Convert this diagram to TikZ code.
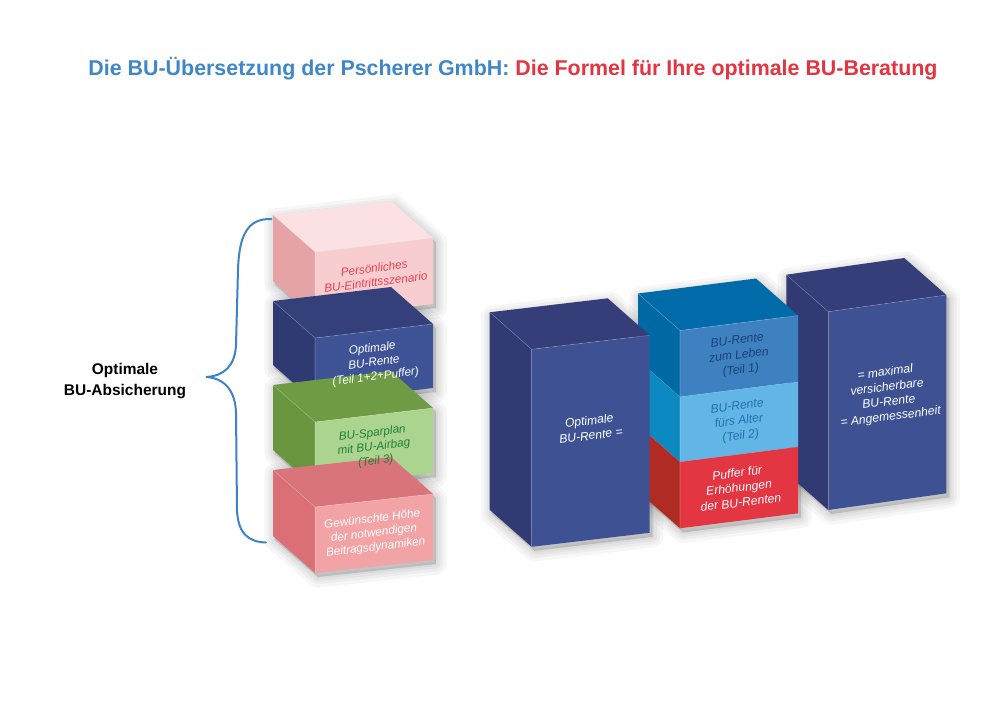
\documentclass[tikz,border=0pt]{standalone}
\usepackage{fontspec}
\setmainfont{Liberation Sans}
\definecolor{ttblue}{HTML}{3F87C7}
\definecolor{ttred}{HTML}{E53340}
\definecolor{pinkF}{HTML}{F8CDD0}
\definecolor{pinkT}{HTML}{FBE1E3}
\definecolor{pinkS}{HTML}{E5A3A5}
\definecolor{pinkTx}{HTML}{E8414F}
\definecolor{obF}{HTML}{3E5396}
\definecolor{obT}{HTML}{34407A}
\definecolor{obS}{HTML}{2F3A73}
\definecolor{grF}{HTML}{ABD48F}
\definecolor{grT}{HTML}{6F9B44}
\definecolor{grS}{HTML}{6A953F}
\definecolor{grTx}{HTML}{1F7F3A}
\definecolor{coF}{HTML}{F1A3A5}
\definecolor{coT}{HTML}{D9757A}
\definecolor{coS}{HTML}{DA6F76}
\definecolor{nvF}{HTML}{3D5193}
\definecolor{nvT}{HTML}{353E78}
\definecolor{nvS}{HTML}{313A72}
\definecolor{mtF}{HTML}{3E81C1}
\definecolor{mtT}{HTML}{006BA8}
\definecolor{mtS}{HTML}{0068A3}
\definecolor{mtTx}{HTML}{1E3F72}
\definecolor{lbF}{HTML}{62B6E5}
\definecolor{lbS}{HTML}{0C89C1}
\definecolor{lbTx}{HTML}{2A6CB0}
\definecolor{rdF}{HTML}{E43543}
\definecolor{rdS}{HTML}{B02B23}
\definecolor{braceblue}{HTML}{3E84C5}

% #1 name, #2 x0, #3 y0 (front top-left), #4 height, #5 skew
\newcommand{\cuboidshadow}[5]{%
  \foreach \w in {16,11,7,3}{%
    \draw[black, opacity=0.035, line width=\w pt, line join=round, fill=black, fill opacity=0.035]
      (#2-40,#3-33) -- (#2+79,#3-#5-33) -- (#2+121,#3-#5+4) -- (#2+121,#3-#5+#4+4) -- (#2+3,#3+#4+4) -- (#2-40,#3+#4-33) -- cycle;}}
% #1 name, #2 x0, #3 y0, #4 height, #5 skew, #6 front, #7 top, #8 side
\newcommand{\cuboid}[8]{%
  \coordinate (#1-a) at (#2,#3);
  \coordinate (#1-b) at (#2+118,#3-#5);
  \coordinate (#1-c) at (#2+118,#3-#5+#4);
  \coordinate (#1-d) at (#2,#3+#4);
  \coordinate (#1-e) at (#2-42,#3-37);
  \coordinate (#1-f) at (#2+76,#3-#5-37);
  \coordinate (#1-g) at (#2-42,#3+#4-37);
  \coordinate (#1-m) at (#2+59,#3-#5/2+#4/2);
  \fill[#7] (#1-e) -- (#1-f) -- (#1-b) -- (#1-a) -- cycle;
  \fill[#8] (#1-e) -- (#1-a) -- (#1-d) -- (#1-g) -- cycle;
  \fill[#6] (#1-a) -- (#1-b) -- (#1-c) -- (#1-d) -- cycle;
  \draw[boxedge] (#1-e) -- (#1-a) -- (#1-b) (#1-a) -- (#1-d);}

\tikzset{
  boxedge/.style={draw=white, draw opacity=0.25, line width=0.4pt},
  smalltext/.style={font=\itshape\fontsize{8.8}{10.6}\selectfont, align=center, rotate=7, inner sep=0pt},
  bigtext/.style={font=\itshape\fontsize{9.1}{11.2}\selectfont, align=center, rotate=7, inner sep=0pt},
}

\begin{document}
\begin{tikzpicture}[x=0.75pt, y=-0.75pt]
\useasboundingbox (0,0) rectangle (1000,707);
\fill[white] (0,0) rectangle (1000,707);

% title
\node[font=\bfseries\fontsize{16.05}{18}\selectfont, inner sep=0pt] (title) at (513,69)
  {\textcolor{ttblue}{Die BU-Übersetzung der Pscherer GmbH:} \textcolor{ttred}{Die Formel für Ihre optimale BU-Beratung}};

% shadows
\cuboidshadow{rn}{828.3}{311.7}{198.3}{16.7}
\cuboidshadow{ms}{680}{330.5}{198}{15}
\cuboidshadow{ln}{531.7}{349.3}{197.5}{14}
\cuboidshadow{p}{315}{252}{66}{14}
\cuboidshadow{b}{315}{338}{64}{14}
\cuboidshadow{g}{315}{422}{65}{14}
\cuboidshadow{c}{315}{507}{66}{13}

% right navy box
\cuboid{rn}{828.3}{311.7}{198.3}{16.7}{nvF}{nvT}{nvS}
% middle stack (bottom to top)
\cuboid{rd}{680}{461.7}{66.6}{15}{rdF}{rdS}{rdS}
\cuboid{lb}{680}{396.7}{65}{15}{lbF}{lbS}{lbS}
\cuboid{mt}{680}{330.5}{66}{15}{mtF}{mtT}{mtS}
% left navy box
\cuboid{ln}{531.7}{349.3}{197.5}{14}{nvF}{nvT}{nvS}
% left stack
\cuboid{p}{315}{252}{66}{14}{pinkF}{pinkT}{pinkS}
\cuboid{b}{315}{338}{64}{14}{obF}{obT}{obS}
\cuboid{g}{315}{422}{65}{14}{grF}{grT}{grS}
\cuboid{c}{315}{507}{66}{13}{coF}{coT}{coS}

% texts
\node[smalltext, text=pinkTx] (tp) at (375,275) {Persönliches\\BU-Eintrittsszenario};
\node[smalltext, text=white] (tb) at (b-m) {Optimale\\BU-Rente\\(Teil 1+2+Puffer)};
\node[smalltext, text=grTx] (tg) at (g-m) {BU-Sparplan\\mit BU-Airbag\\(Teil 3)};
\node[smalltext, text=white] (tc) at (c-m) {Gewünschte Höhe\\der notwendigen\\Beitragsdynamiken};

\node[bigtext, text=white] (tln) at (590,428) {Optimale\\BU-Rente =};
\node[bigtext, text=mtTx] (tmt) at (mt-m) {BU-Rente\\zum Leben\\(Teil 1)};
\node[bigtext, text=lbTx] (tlb) at (lb-m) {BU-Rente\\fürs Alter\\(Teil 2)};
\node[bigtext, text=white] (trd) at (rd-m) {Puffer für\\Erhöhungen\\der BU-Renten};
\node[bigtext, text=white] (trn) at (888,395) {= maximal\\versicherbare\\BU-Rente\\= Angemessenheit};

% brace
\coordinate (bracetop) at (271.5,219);
\coordinate (bracebot) at (266,542.5);
\draw[braceblue, line width=1.5pt, line cap=round]
  (bracetop) .. controls (246,218) and (239,238) .. (238,270)
  -- (236,345) .. controls (235,366) and (224,376) .. (206,377)
  .. controls (224,378) and (235,390) .. (236,412)
  -- (237,510) .. controls (238,534) and (249,542) .. (bracebot);

\node[font=\bfseries\fontsize{11.6}{13.6}\selectfont, align=center, inner sep=0pt] (lbl) at (125,381)
  {Optimale\\[1.5pt]BU-Absicherung};
\end{tikzpicture}
\end{document}
